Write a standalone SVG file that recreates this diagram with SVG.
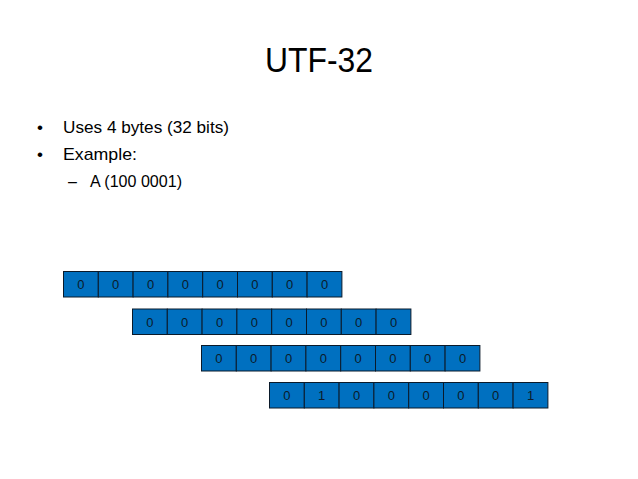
<svg xmlns="http://www.w3.org/2000/svg" width="638" height="479" viewBox="0 0 638 479">
<style>
.t{font-family:"Liberation Sans",Arial,sans-serif;fill:#000}
.cell rect{fill:#0070C0;stroke:#0a1a2a;stroke-width:1}
.cell text{font-family:"Liberation Sans",Arial,sans-serif;font-size:13px;fill:#0b1b2b;text-anchor:middle}
</style>
<rect width="638" height="479" fill="#fff"/>
<g id="title"><text class="t" x="319" y="72" font-size="35" text-anchor="middle" textLength="108" lengthAdjust="spacingAndGlyphs">UTF-32</text></g>
<g id="bullets">
<text class="t" x="37" y="133" font-size="17">•</text>
<text class="t" x="63" y="133" font-size="17" textLength="166" lengthAdjust="spacingAndGlyphs">Uses 4 bytes (32 bits)</text>
<text class="t" x="37" y="160" font-size="17">•</text>
<text class="t" x="63" y="160" font-size="17" textLength="74" lengthAdjust="spacingAndGlyphs">Example:</text>
<text class="t" x="68" y="187" font-size="16">–</text>
<text class="t" x="90" y="187" font-size="16" textLength="92" lengthAdjust="spacingAndGlyphs">A (100 0001)</text>
</g>
<g id="byte1" class="cell" transform="translate(63.5,271.5)">
<rect x="0" width="34.8" height="25.5"/><rect x="34.8" width="34.8" height="25.5"/><rect x="69.6" width="34.8" height="25.5"/><rect x="104.4" width="34.8" height="25.5"/><rect x="139.2" width="34.8" height="25.5"/><rect x="174" width="34.8" height="25.5"/><rect x="208.8" width="34.8" height="25.5"/><rect x="243.6" width="34.8" height="25.5"/>
<text x="17.4" y="17.5">0</text><text x="52.2" y="17.5">0</text><text x="87" y="17.5">0</text><text x="121.8" y="17.5">0</text><text x="156.6" y="17.5">0</text><text x="191.4" y="17.5">0</text><text x="226.2" y="17.5">0</text><text x="261" y="17.5">0</text>
</g>
<g id="byte2" class="cell" transform="translate(132.5,309)">
<rect x="0" width="34.8" height="25.5"/><rect x="34.8" width="34.8" height="25.5"/><rect x="69.6" width="34.8" height="25.5"/><rect x="104.4" width="34.8" height="25.5"/><rect x="139.2" width="34.8" height="25.5"/><rect x="174" width="34.8" height="25.5"/><rect x="208.8" width="34.8" height="25.5"/><rect x="243.6" width="34.8" height="25.5"/>
<text x="17.4" y="17.5">0</text><text x="52.2" y="17.5">0</text><text x="87" y="17.5">0</text><text x="121.8" y="17.5">0</text><text x="156.6" y="17.5">0</text><text x="191.4" y="17.5">0</text><text x="226.2" y="17.5">0</text><text x="261" y="17.5">0</text>
</g>
<g id="byte3" class="cell" transform="translate(201.5,345.5)">
<rect x="0" width="34.8" height="25.5"/><rect x="34.8" width="34.8" height="25.5"/><rect x="69.6" width="34.8" height="25.5"/><rect x="104.4" width="34.8" height="25.5"/><rect x="139.2" width="34.8" height="25.5"/><rect x="174" width="34.8" height="25.5"/><rect x="208.8" width="34.8" height="25.5"/><rect x="243.6" width="34.8" height="25.5"/>
<text x="17.4" y="17.5">0</text><text x="52.2" y="17.5">0</text><text x="87" y="17.5">0</text><text x="121.8" y="17.5">0</text><text x="156.6" y="17.5">0</text><text x="191.4" y="17.5">0</text><text x="226.2" y="17.5">0</text><text x="261" y="17.5">0</text>
</g>
<g id="byte4" class="cell" transform="translate(269.5,382.5)">
<rect x="0" width="34.8" height="25.5"/><rect x="34.8" width="34.8" height="25.5"/><rect x="69.6" width="34.8" height="25.5"/><rect x="104.4" width="34.8" height="25.5"/><rect x="139.2" width="34.8" height="25.5"/><rect x="174" width="34.8" height="25.5"/><rect x="208.8" width="34.8" height="25.5"/><rect x="243.6" width="34.8" height="25.5"/>
<text x="17.4" y="17.5">0</text><text x="52.2" y="17.5">1</text><text x="87" y="17.5">0</text><text x="121.8" y="17.5">0</text><text x="156.6" y="17.5">0</text><text x="191.4" y="17.5">0</text><text x="226.2" y="17.5">0</text><text x="261" y="17.5">1</text>
</g>
<g id="connectors"/>
</svg>
